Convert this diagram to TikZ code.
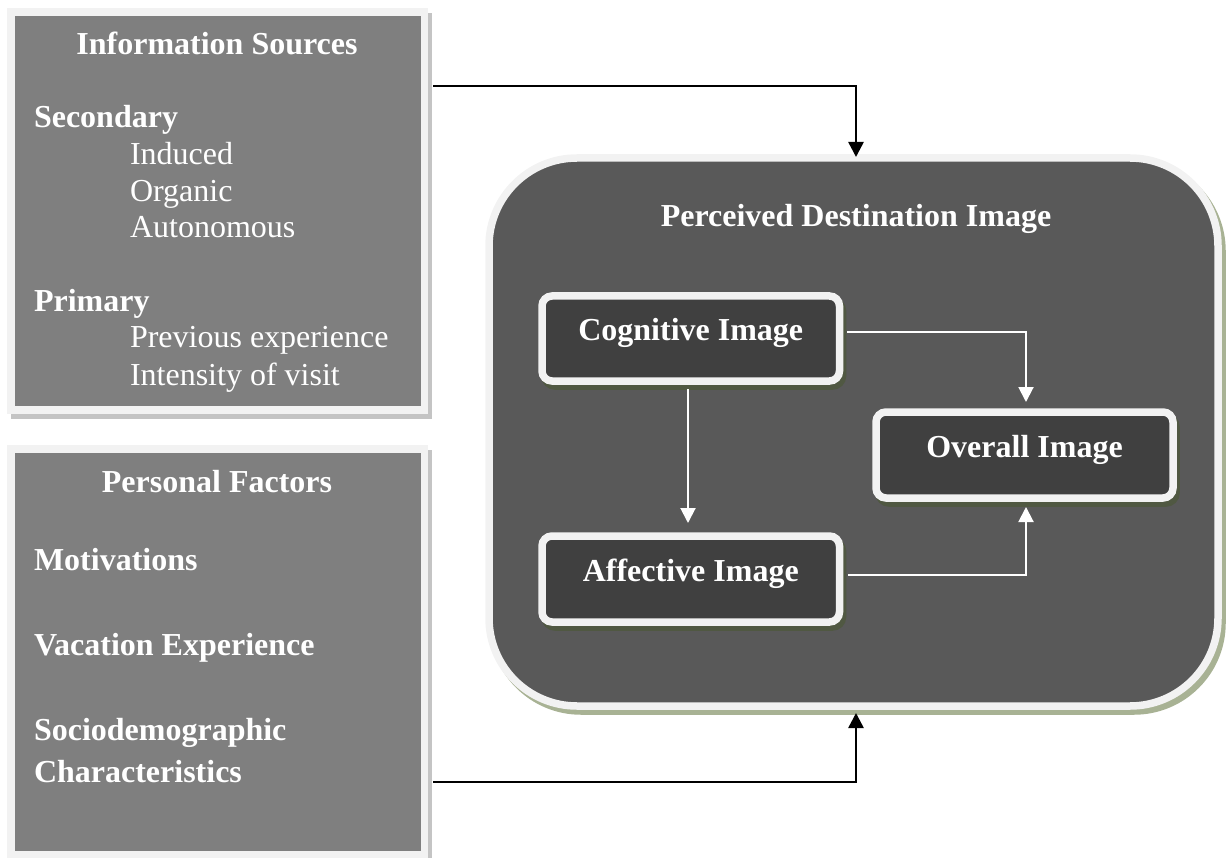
\documentclass[tikz,border=0pt]{standalone}
\usepackage{fontspec}
\setmainfont{Liberation Serif}
\usetikzlibrary{arrows.meta,shadows,calc}
\definecolor{lboxfill}{RGB}{127,127,127}
\definecolor{bordc}{RGB}{242,242,242}
\definecolor{lshad}{RGB}{196,196,196}
\definecolor{bigfill}{RGB}{89,89,89}
\definecolor{bigshad}{RGB}{168,178,148}
\definecolor{smfill}{RGB}{64,64,64}
\definecolor{smshad}{RGB}{80,88,66}
\begin{document}
\begin{tikzpicture}[x=1pt,y=-1pt,
  every node/.style={inner sep=0pt, outer sep=0pt},
  txt/.style={text=white, font=\fontsize{32}{36}\selectfont},
  btxt/.style={text=white, font=\fontsize{32}{36}\selectfont\bfseries},
  leftbox/.style={rectangle, fill=lboxfill, draw=bordc, line width=7.5pt,
    drop shadow={shadow xshift=4pt, shadow yshift=-5pt, fill=lshad, draw=lshad, line width=7.5pt, opacity=1}},
  bigbox/.style={rectangle, rounded corners=88pt, fill=bigfill, draw=bordc, line width=7.5pt,
    drop shadow={shadow xshift=4pt, shadow yshift=-5pt, fill=bigshad, draw=bigshad, line width=7.5pt, opacity=1}},
  smbox/.style={rectangle, rounded corners=10pt, fill=smfill, draw=bordc, line width=7.5pt,
    text=white, font=\fontsize{32}{36}\selectfont\bfseries, text height=22pt, text depth=17pt,
    drop shadow={shadow xshift=3pt, shadow yshift=-5pt, fill=smshad, draw=smshad, line width=7.5pt, opacity=1}},
  blackarrow/.style={draw=black, line width=2.5pt, -{Triangle[width=15pt,length=15pt]}},
  warrow/.style={draw=white, line width=2pt, -{Triangle[width=15pt,length=15pt]}}
]
\useasboundingbox (0,0) rectangle (1228,858);

% left boxes
\node[leftbox, minimum width=413.5pt, minimum height=398pt] (info) at (217.75,211) {};
\node[leftbox, minimum width=413.5pt, minimum height=406pt] (pf) at (217.75,652) {};

% big box
\node[bigbox, minimum width=729pt, minimum height=548pt] (pdi) at (853.5,432) {};

% inner boxes
\node[smbox, minimum width=297.5pt, minimum height=85pt] (cog) at (690.75,338.5) {Cognitive Image};
\node[smbox, minimum width=297pt, minimum height=86pt] (ov) at (1024.5,455) {Overall Image};
\node[smbox, minimum width=297.5pt, minimum height=86pt] (aff) at (690.75,579) {Affective Image};

% texts, info sources
\node[btxt, anchor=base] (infot) at (217,55) {Information Sources};
\node[btxt, anchor=base west] (sec) at (34,128) {Secondary};
\node[txt, anchor=base west] (ind) at (130,165) {Induced};
\node[txt, anchor=base west] (org) at (130,202) {Organic};
\node[txt, anchor=base west] (aut) at (130,238) {Autonomous};
\node[btxt, anchor=base west] (pri) at (34,312) {Primary};
\node[txt, anchor=base west] (prev) at (130,348) {Previous experience};
\node[txt, anchor=base west] (intv) at (130,385) {Intensity of visit};

% texts, personal factors
\node[btxt, anchor=base] (pft) at (217,492) {Personal Factors};
\node[btxt, anchor=base west] (mot) at (34,570) {Motivations};
\node[btxt, anchor=base west] (vac) at (34,655) {Vacation Experience};
\node[btxt, anchor=base west] (soc) at (34,740) {Sociodemographic};
\node[btxt, anchor=base west] (cha) at (34,782) {Characteristics};

% title of big box
\node[btxt, anchor=base] (pdit) at (856,227) {Perceived Destination Image};

% connectors
\draw[blackarrow] ([shift={(8.5,74)}]info.north east) -| ([shift={(2.5,-1)}]pdi.north);
\draw[blackarrow] ([shift={(8.5,333)}]pf.north east) -| ([shift={(2.5,7)}]pdi.south);

\draw[warrow] ([shift={(7.5,-6.5)}]cog.east) -| ([shift={(1.5,-10)}]ov.north);
\draw[warrow] ([shift={(-2.75,8)}]cog.south) -- ([shift={(-2.75,-13)}]aff.north);
\draw[warrow] ([shift={(8.5,-4)}]aff.east) -| ([shift={(1.5,9)}]ov.south);
\end{tikzpicture}
\end{document}
